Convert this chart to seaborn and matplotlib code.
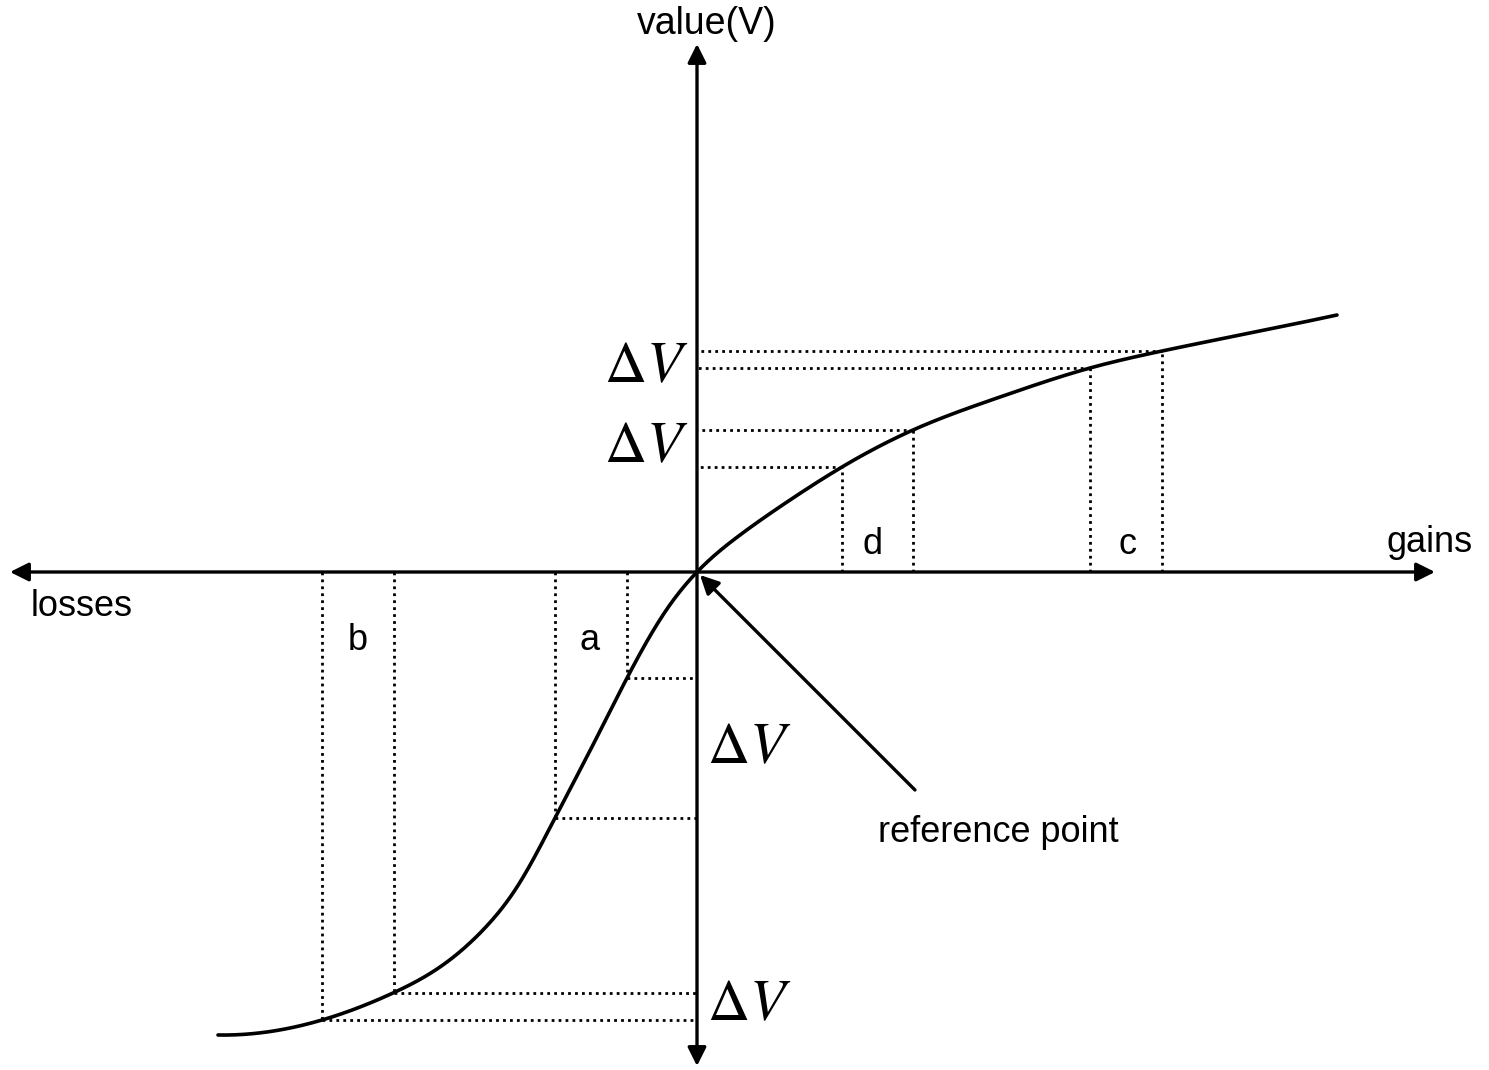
import matplotlib
matplotlib.use("Agg")
import matplotlib.pyplot as plt
import seaborn as sns
import pandas as pd
import numpy as np

# ---- data (origin = reference point) ----
curve_x = [-479, -375, -304, -257, -214, -180, -142, -100, -70, -30, 0,
           43, 93, 145, 216, 303, 393, 465, 553, 640]
curve_v = [-463, -448, -421, -395, -358, -315, -246, -165, -106, -37, 0,
           37, 72, 105, 142, 175, 204, 221, 239, 257]

gain_x = [145, 216, 393, 465]          # d: 145,216  c: 393,465
gain_v = [105, 142, 204, 221]
loss_x = [-70, -142, -303, -375]       # a: -70,-142  b: -303,-375
loss_v = [-106, -246, -421, -448]

bracket_labels = ["d", "c", "a", "b"]
bracket_pos = [(175, 27), (430, 27), (-107, -68), (-339, -68)]

dv_label_pos_gain = [(-9, 205), (-9, 125)]
dv_label_pos_loss = [(10, -176), (10, -433)]

sns.set_theme(style="white")
plt.rcParams['font.family'] = ['Liberation Sans', 'DejaVu Sans']
plt.rcParams['mathtext.fontset'] = 'stix'
plt.rcParams['text.color'] = 'black'

fig = plt.figure(figsize=(14.89, 10.70), dpi=100)
ax = fig.add_axes([0, 0, 1, 1])
ax.set_xlim(-697, 792)
ax.set_ylim(-498, 572)
ax.axis('off')

df = pd.DataFrame({"x": curve_x, "v": curve_v})
try:
    from scipy.interpolate import CubicSpline
    xs = np.linspace(min(curve_x), max(curve_x), 800)
    dfs = pd.DataFrame({"x": xs, "v": CubicSpline(curve_x, curve_v)(xs)})
except Exception:
    dfs = df
sns.lineplot(data=dfs, x="x", y="v", sort=False, color="black", lw=2.6, ax=ax, estimator=None)

dot = dict(color="black", lw=2.0, linestyle=(0, (1, 1.5)))
for x, v in zip(gain_x + loss_x, gain_v + loss_v):
    ax.plot([x, x], [0, v], **dot)
    ax.plot([x, 0], [v, v], **dot)

# axes with arrows
arrow_kw = dict(arrowstyle="<|-|>", color="black", lw=2.4, mutation_scale=28,
                shrinkA=0, shrinkB=0)
ax.annotate("", xy=(-687, 0), xytext=(738, 0), arrowprops=arrow_kw)
ax.annotate("", xy=(0, 528), xytext=(0, -494), arrowprops=arrow_kw)

# reference point arrow
ax.annotate("", xy=(3, -3), xytext=(218, -218),
            arrowprops=dict(arrowstyle="-|>", color="black", lw=2.4,
                            mutation_scale=28, shrinkA=0, shrinkB=0))

fs = 26
ax.text(10, 548, "value(V)", ha="center", va="center", fontsize=27)
ax.text(733, 29, "gains", ha="center", va="center", fontsize=fs)
ax.text(-615, -35, "losses", ha="center", va="center", fontsize=fs)
ax.text(301, -261, "reference point", ha="center", va="center", fontsize=fs)
for lab, (x, y) in zip(bracket_labels, bracket_pos):
    ax.text(x, y, lab, ha="center", va="center", fontsize=fs)

for (x, y) in dv_label_pos_gain:
    ax.text(x, y, r"$\Delta V$", ha="right", va="center", fontsize=42)
for (x, y) in dv_label_pos_loss:
    ax.text(x, y, r"$\Delta V$", ha="left", va="center", fontsize=42)

fig.savefig("out.png", dpi=100, facecolor="white")
